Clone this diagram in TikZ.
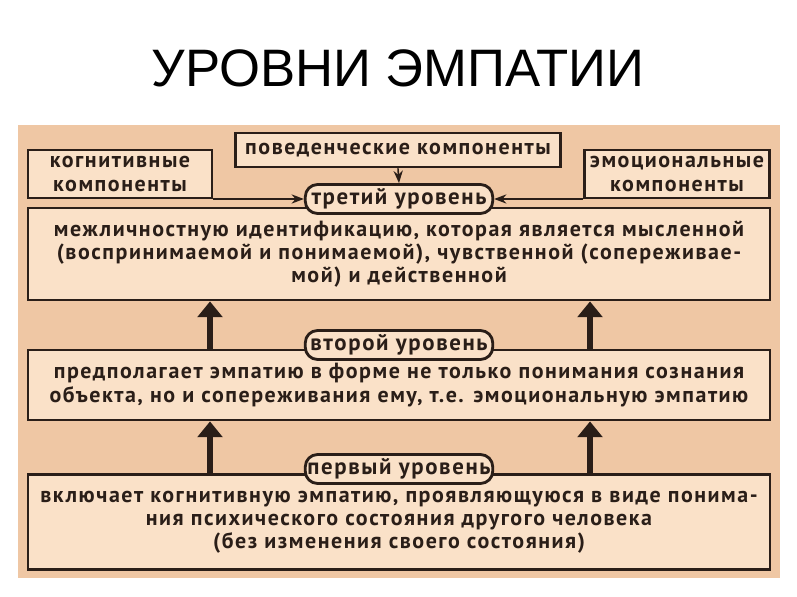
\documentclass[tikz,border=0pt]{standalone}
\usepackage{fontspec}
\setmainfont{PT Sans}[LetterSpace=7]
\newfontfamily\titlefont{Liberation Sans}
\usetikzlibrary{arrows.meta}
\definecolor{panel}{HTML}{EFC7A4}
\definecolor{boxfill}{HTML}{FAE1C8}
\definecolor{ink}{HTML}{2A1E18}
\tikzset{
  box/.style={draw=ink, line width=1.6pt, fill=boxfill, font=\bfseries\fontsize{12.5}{13.2}\selectfont, text=ink, align=center, inner sep=0pt},
  tag/.style={draw=ink, line width=1.6pt, fill=boxfill, rounded corners=7pt, font=\bfseries\fontsize{13}{14}\selectfont, text=ink, minimum width=3.75cm, minimum height=0.58cm, inner sep=0pt},
  thin/.style={ink, line width=0.9pt, -{Stealth[length=7pt]}},
  up/.style={ink, line width=3pt, -{Triangle[length=9pt, width=14pt]}}
}
\begin{document}
\begin{tikzpicture}[x=0.02cm, y=-0.02cm]
  \useasboundingbox (0,0) rectangle (797,597);
  \node[font=\titlefont\fontsize{30}{32}\selectfont] (title) at (398,68) {УРОВНИ ЭМПАТИИ};
  \fill[panel] (18,125) rectangle (780,578);

  % boxes
  \node[box, minimum width=3.68cm, minimum height=0.96cm] (cogn) at (120,174) {когнитивные\\компоненты};
  \node[box, minimum width=6.5cm, minimum height=0.68cm] (behav) at (398,150) {поведенческие компоненты};
  \node[box, minimum width=3.7cm, minimum height=0.96cm] (emot) at (677,174) {эмоциональные\\компоненты};

  \node[box, minimum width=14.84cm, minimum height=1.84cm] (third) at (399,254)
    {межличностную идентификацию, которая является мысленной\\(воспринимаемой и понимаемой), чувственной (сопереживае-\\мой) и действенной};
  \node[box, minimum width=14.84cm, minimum height=1.4cm] (second) at (399,385)
    {предполагает эмпатию в форме не только понимания сознания\\объекта, но и сопереживания ему, т.е. эмоциональную эмпатию};
  \node[box, minimum width=14.84cm, minimum height=1.9cm] (first) at (399,522)
    {включает когнитивную эмпатию, проявляющуюся в виде понима-\\ния психического состояния другого человека\\(без изменения своего состояния)};

  \node[tag] (tthird) at (399,199) {третий уровень};
  \node[tag] (tsecond) at (399,345) {второй уровень};
  \node[tag] (tfirst) at (399,469) {первый уровень};

  % connectors
  \draw[thin] (cogn.east |- tthird) -- (tthird.west);
  \draw[thin] (emot.west |- tthird) -- (tthird.east);
  \draw[thin] (behav.south) -- (tthird.north);

  \coordinate (x1) at (210,0);
  \coordinate (x2) at (590,0);
  \draw[up] (x1 |- second.north) -- (x1 |- third.south);
  \draw[up] (x2 |- second.north) -- (x2 |- third.south);
  \draw[up] (x1 |- first.north) -- (x1 |- second.south);
  \draw[up] (x2 |- first.north) -- (x2 |- second.south);
\end{tikzpicture}
\end{document}
